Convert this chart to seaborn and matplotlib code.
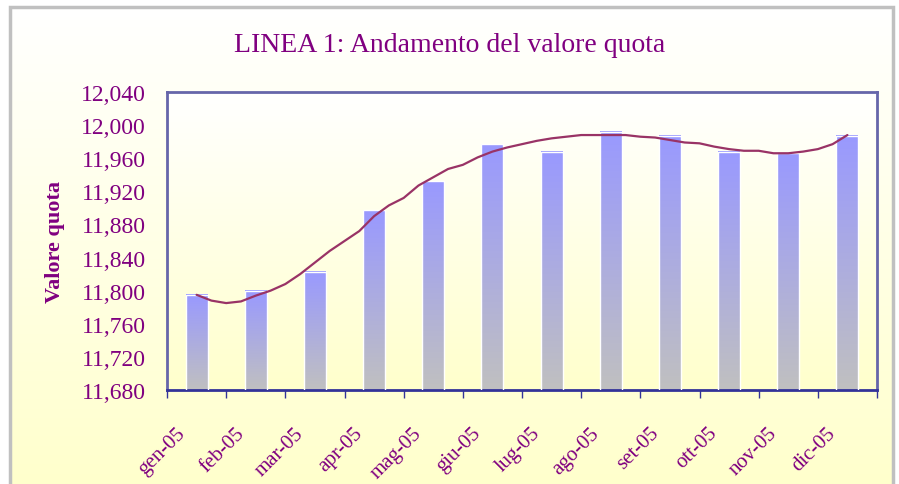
import matplotlib
matplotlib.use("Agg")
import matplotlib.pyplot as plt
import matplotlib.transforms as mtransforms
import seaborn as sns
import pandas as pd
import numpy as np
from matplotlib.colors import LinearSegmentedColormap
from matplotlib.patches import Rectangle
from matplotlib.ticker import FixedLocator

# monthly bars
months = ["gen-05", "feb-05", "mar-05", "apr-05", "mag-05", "giu-05",
          "lug-05", "ago-05", "set-05", "ott-05", "nov-05", "dic-05"]
month_values = [11795, 11800, 11823, 11897, 11932, 11977,
                11968, 11992, 11987, 11968, 11966, 11987]

# weekly-ish line (4 readings per month, from gen-05 to dic-05)
line_values = [11795, 11788, 11785, 11787, 11794, 11800, 11808, 11820,
               11834, 11848, 11860, 11872, 11890, 11903, 11912, 11927,
               11937, 11947, 11952, 11961, 11968, 11973, 11977, 11981,
               11984, 11986, 11988, 11988, 11988, 11988, 11986, 11985,
               11982, 11979, 11978, 11974, 11971, 11969, 11969, 11966,
               11966, 11968, 11971, 11977, 11988]
readings_per_month = 4

y_ticks = [11680, 11720, 11760, 11800, 11840, 11880, 11920, 11960, 12000, 12040]

purple = "#800080"
navy = "#333399"
line_color = "#993366"

sns.set_style("white")
plt.rcParams["font.family"] = ["Liberation Serif", "DejaVu Serif"]

fig = plt.figure(figsize=(8.99, 4.85), dpi=100)
fig.patch.set_facecolor("white")

# figure background gradient inside the grey frame
bg = fig.add_axes([10 / 899, 0, 883 / 899, 1 - 8 / 485], zorder=-10)
bg_cmap = LinearSegmentedColormap.from_list("bg", ["#FFFFFF", "#FFFFCC"])
bg.imshow(np.linspace(0, 1, 256).reshape(-1, 1), cmap=bg_cmap, aspect="auto",
          extent=[0, 1, 0, 1])
bg.set_axis_off()
fig.patches.append(Rectangle((10 / 899, -0.01), 883 / 899, 1 - 8 / 485 + 0.01,
                             transform=fig.transFigure, fill=False,
                             edgecolor="#C0C0C0", linewidth=2.5, zorder=5))

ax = fig.add_axes([167 / 899, 1 - 391 / 485, 710 / 899, 298 / 485])
ax.patch.set_alpha(0)

df = pd.DataFrame({"mese": months, "valore": month_values})
sns.barplot(data=df, x="mese", y="valore", width=0.37, color="#9999FF",
            edgecolor="white", linewidth=1, ax=ax, zorder=2)

# gradient fill for each bar: blue on top, grey at the bottom
bar_cmap = LinearSegmentedColormap.from_list("bar", ["#C0C0C0", "#9999FF"])
grad = np.linspace(0, 1, 256).reshape(-1, 1)
for p in ax.patches:
    x0, y0 = p.get_x(), 11680
    x1, y1 = x0 + p.get_width(), p.get_y() + p.get_height()
    ax.imshow(grad, cmap=bar_cmap, aspect="auto", origin="lower",
              extent=[x0, x1, y0, y1], zorder=2.5)
    p.set_facecolor("none")
    p.set_zorder(3)

# plot-area background gradient
ax.imshow(grad, cmap=bg_cmap.reversed(), aspect="auto", origin="lower",
          extent=[0, 1, 0, 1], transform=ax.transAxes, zorder=0)

line_pos = np.arange(len(line_values)) / readings_per_month
sns.lineplot(x=line_pos, y=line_values, color=line_color, linewidth=1.6,
             ax=ax, zorder=4)

ax.set_xlim(-0.5, 11.5)
ax.set_ylim(11680, 12040)
ax.set_yticks(y_ticks)
ax.set_yticklabels([f"{v:,}" for v in y_ticks])
ax.set_xticks(range(len(months)))
ax.set_xticklabels(months, rotation=45, ha="right", va="top",
                   rotation_mode="anchor")
ax.xaxis.set_minor_locator(FixedLocator(np.arange(-0.5, 12, 1)))
ax.tick_params(axis="x", which="major", length=0, pad=24, labelsize=15,
               labelcolor=purple)
ax.tick_params(axis="x", which="minor", length=6, width=1, color=navy,
               direction="out", bottom=True)
ax.tick_params(axis="y", length=0, pad=15, labelsize=17, labelcolor=purple)

shift = mtransforms.ScaledTranslation(-21 / 100, 0, fig.dpi_scale_trans)
for lab in ax.get_xticklabels():
    lab.set_transform(lab.get_transform() + shift)

for s in ax.spines.values():
    s.set_visible(True)
    s.set_color("#6666AA")
    s.set_linewidth(2)
ax.spines["bottom"].set_color(navy)

ax.set_xlabel("")
ax.set_ylabel("Valore quota", fontsize=16, fontweight="bold", color=purple)
ax.yaxis.set_label_coords(-0.143, 0.5)

fig.text(0.5, 1 - 45 / 485, "LINEA 1: Andamento del valore quota",
         ha="center", va="center", fontsize=20, color=purple)

fig.savefig("out.png", dpi=100)
